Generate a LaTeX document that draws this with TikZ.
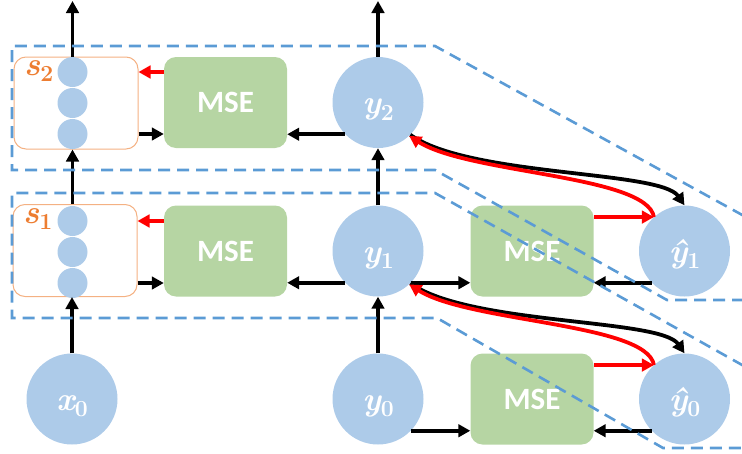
\documentclass[tikz,border=0pt]{standalone}
\usepackage{fontspec}
\newfontfamily\msefont{Carlito}
\usetikzlibrary{arrows.meta}
\definecolor{cblue}{HTML}{ADCBE9}
\definecolor{cgreen}{HTML}{B6D5A3}
\definecolor{corange}{HTML}{ED7D31}
\definecolor{cborder}{HTML}{F4B183}
\definecolor{cdash}{HTML}{5B9BD5}
\newcommand{\varlab}[2]{{\itshape #1}\raisebox{-0.2em}{\fontsize{23}{24}\selectfont #2}}
\begin{document}
\begin{tikzpicture}[x=1pt,y=1pt,
  var/.style={circle, fill=cblue, minimum size=91pt, inner sep=0pt, text=white,
    font=\bfseries\fontsize{33}{36}\selectfont, text height=22pt, text depth=0pt},
  msebox/.style={rounded corners=12pt, fill=cgreen, minimum width=123pt, minimum height=91pt,
    text=white, font=\msefont\bfseries\fontsize{31}{34}\selectfont, inner sep=0pt},
  sbox/.style={rounded corners=12pt, draw=cborder, line width=1pt, minimum width=124pt,
    minimum height=92pt, inner sep=0pt},
  unit/.style={circle, fill=cblue, minimum size=30pt, inner sep=0pt},
  slabel/.style={text=corange, font=\bfseries\fontsize{33}{36}\selectfont, anchor=base west, inner sep=0pt},
  arr/.style={line width=3.8pt, -{Triangle[length=12pt,width=12.5pt]}},
  redarr/.style={arr, red},
  frame/.style={draw=cdash, line width=2.6pt, dash pattern=on 12pt off 7pt},
]
\useasboundingbox (0,0) rectangle (742,-453);
\coordinate (topedge) at (0,-1);

% state boxes
\node[sbox] (s2box) at (76,-103) {};
\node[sbox] (s1box) at (75,-250.5) {};
\node[unit] (c21) at (72.5,-72) {};
\node[unit] (c22) at (72.5,-103) {};
\node[unit] (c23) at (72.5,-134) {};
\node[unit] (c11) at (72.5,-221) {};
\node[unit] (c12) at (72.5,-252) {};
\node[unit] (c13) at (72.5,-283) {};
\node[slabel] (s2lab) at (24,-75) {\varlab{s}{2}};
\node[slabel] (s1lab) at (23,-223) {\varlab{s}{1}};

% MSE boxes
\node[msebox] (msetop) at (225.5,-102.5) {MSE};
\node[msebox] (msemid) at (225.5,-251) {MSE};
\node[msebox] (mseR1) at (532,-251) {MSE};
\node[msebox] (mseR0) at (532,-399) {MSE};

% variables
\node[var] (x0) at (72,-399) {\varlab{x}{0}};
\node[var] (y0) at (378,-399) {\varlab{y}{0}};
\node[var] (y1) at (378,-251) {\varlab{y}{1}};
\node[var] (y2) at (378,-102.5) {\varlab{y}{2}};
\node[var] (yh1) at (684.5,-251) {\varlab{\^y}{1}};
\node[var] (yh0) at (684.5,-399) {\varlab{\^y}{0}};

% vertical arrows
\draw[arr] (x0.north) -- (x0.north |- s1box.south);
\draw[arr] (s1box.north -| c11) -- (s2box.south -| c11);
\draw[arr] (s2box.north -| c21) -- (c21 |- topedge);
\draw[arr] (y0.north) -- (y1.south);
\draw[arr] (y1.north) -- (y2.south);
\draw[arr] (y2.north) -- (y2.north |- topedge);

% left block arrows
\draw[redarr] (msetop.west |- c21) -- (s2box.east |- c21);
\draw[arr] (s2box.east |- c23) -- (msetop.west |- c23);
\draw[arr] (y2.224) -- (msetop.east |- y2.224);
\draw[redarr] (msemid.west |- c11) -- (s1box.east |- c11);
\draw[arr] (s1box.east |- c13) -- (msemid.west |- c13);
\draw[arr] (y1.224) -- (msemid.east |- y1.224);

% right block arrows
\draw[arr] (y1.-44) -- (mseR1.west |- y1.-44);
\draw[arr] (yh1.224) -- (mseR1.east |- yh1.224);
\draw[redarr] (mseR1.east |- yh1.132) -- (yh1.132);
\draw[arr] (y0.-44) -- (mseR0.west |- y0.-44);
\draw[arr] (yh0.224) -- (mseR0.east |- yh0.224);
\draw[redarr] (mseR0.east |- yh0.132) -- (yh0.132);

% curved arrows
\draw[arr] (y2.-45) .. controls +(59,-42) and +(-24,35) .. (yh1.north);
\draw[redarr] (yh1.132) .. controls +(-7,42) and +(60,-38) .. (y2.-47);
\draw[arr] (y1.-45) .. controls +(59,-42) and +(-24,35) .. (yh0.north);
\draw[redarr] (yh0.132) .. controls +(-7,42) and +(60,-38) .. (y1.-47);

% dashed frames
\begin{scope}
\clip (0,0) rectangle (742,-453);
\draw[frame] (760,-224.75) -- (435,-46) -- (12,-46) -- (12,-170) -- (435,-170) -- (667,-300) -- (760,-300);
\draw[frame] (760,-375) -- (435,-193) -- (12,-193) -- (12,-318) -- (437,-318) -- (663,-448) -- (760,-448);
\end{scope}
\end{tikzpicture}
\end{document}
